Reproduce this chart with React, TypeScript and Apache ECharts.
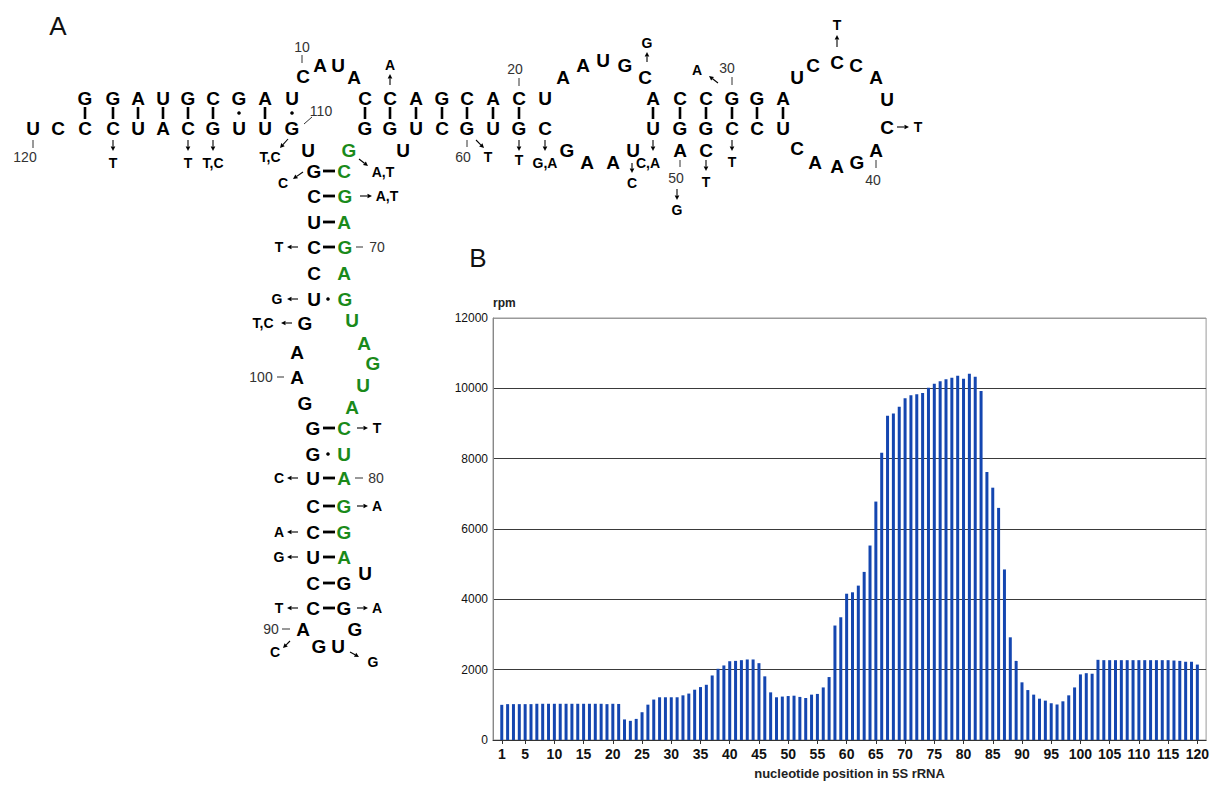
import React, { useEffect, useRef } from "react";
import * as echarts from "echarts";

// ---------- Panel B data ----------
const positions: number[] = Array.from({ length: 120 }, (_, i) => i + 1);
const tickLabels: number[] = [1, 5, 10, 15, 20, 25, 30, 35, 40, 45, 50, 55, 60, 65, 70, 75, 80, 85, 90, 95, 100, 105, 110, 115, 120];
const rpm: number[] = [
  1000, 1020, 1020, 1020, 1020, 1020, 1030, 1030, 1030, 1030,
  1030, 1030, 1030, 1030, 1030, 1030, 1030, 1030, 1020, 1030,
  1025, 585, 545, 600, 790, 1005, 1150, 1215, 1215, 1215,
  1215, 1270, 1320, 1430, 1505, 1570, 1835, 2025, 2120, 2240,
  2250, 2270, 2290, 2290, 2185, 1810, 1355, 1215, 1235, 1250,
  1260, 1225, 1195, 1290, 1310, 1495, 1790, 3255, 3490, 4160,
  4200, 4390, 4780, 5530, 6780, 8170, 9220, 9285, 9475, 9720,
  9800, 9830, 9870, 10020, 10130, 10200, 10255, 10300, 10360, 10275,
  10415, 10330, 9925, 7620, 7175, 6600, 4850, 2920, 2250, 1640,
  1420, 1290, 1175, 1120, 1045, 1010, 1100, 1270, 1495, 1865,
  1900, 1885, 2280, 2270, 2270, 2270, 2270, 2270, 2270, 2270,
  2270, 2270, 2270, 2270, 2270, 2260, 2250, 2225, 2225, 2145,
];
const yTicks: number[] = [0, 2000, 4000, 6000, 8000, 10000, 12000];

// ---------- Panel A layout (RNA secondary structure) ----------
const blackBases: [string, number, number][] = [
  ["G", 85, 98], ["G", 113, 98], ["A", 138, 98], ["U", 163, 98], ["G", 188, 98], ["C", 213, 98], ["G", 239, 98], ["A", 265, 98], ["U", 292, 98],
  ["C", 303, 76], ["A", 320, 65], ["U", 338, 65], ["A", 354, 77],
  ["C", 365, 98], ["C", 390, 98], ["A", 416, 98], ["G", 442, 98], ["C", 467, 98], ["A", 493, 98], ["C", 519, 98], ["U", 545, 98],
  ["A", 563, 77], ["A", 583, 65], ["U", 603, 60], ["G", 625, 65], ["C", 645, 77],
  ["A", 653, 98], ["C", 680, 98], ["C", 706, 98], ["G", 732, 98], ["G", 757, 98], ["A", 783, 98],
  ["U", 797, 77], ["C", 813, 65], ["C", 837, 62], ["C", 856, 65], ["A", 876, 77], ["U", 887, 99], ["C", 887, 127],
  ["A", 876, 150], ["G", 857, 162], ["A", 837, 166], ["A", 815, 162], ["C", 797, 148],
  ["U", 783, 128], ["C", 757, 128], ["C", 732, 128], ["G", 706, 128], ["G", 680, 128], ["U", 653, 128],
  ["A", 680, 150], ["C", 706, 150],
  ["U", 633, 150], ["A", 613, 162], ["A", 587, 162], ["G", 567, 150],
  ["C", 545, 128], ["G", 519, 128], ["U", 493, 128], ["G", 467, 128], ["C", 442, 128], ["U", 416, 128], ["G", 390, 128], ["G", 365, 128], ["U", 403, 150],
  ["U", 33, 128], ["C", 58, 128], ["C", 85, 128], ["C", 113, 128], ["U", 138, 128], ["A", 163, 128], ["C", 188, 128], ["G", 213, 128], ["U", 239, 128], ["U", 265, 128], ["G", 292, 128],
  ["U", 308, 150], ["G", 314, 171], ["C", 314, 196], ["U", 314, 222], ["C", 314, 247], ["C", 314, 273], ["U", 314, 299], ["G", 305, 323],
  ["A", 297, 352], ["A", 297, 377], ["G", 305, 403], ["G", 313, 428], ["G", 313, 454], ["U", 313, 478], ["C", 313, 506], ["C", 313, 532],
  ["U", 313, 557], ["C", 313, 583], ["C", 313, 608], ["A", 303, 629], ["G", 319, 646], ["U", 338, 646], ["G", 355, 629],
  ["G", 344, 608], ["G", 344, 583], ["U", 365, 573],
];
const greenBases: [string, number, number][] = [
  ["G", 349, 150], ["C", 344, 171], ["G", 345, 196], ["A", 344, 222], ["G", 345, 247], ["A", 344, 273], ["G", 345, 299],
  ["U", 352, 320], ["A", 364, 343], ["G", 373, 363], ["U", 363, 385], ["A", 352, 407],
  ["C", 344, 428], ["U", 344, 454], ["A", 344, 478], ["G", 344, 506], ["G", 344, 532], ["A", 344, 557],
];
const mutations: [string, number, number][] = [
  ["T", 113, 163], ["T", 188, 163], ["T,C", 213, 163], ["T,C", 270, 157], ["C", 283, 183],
  ["A,T", 383, 172], ["A,T", 387, 196], ["T", 279, 247], ["G", 277, 299], ["T,C", 263, 323],
  ["T", 377, 428], ["C", 279, 478], ["A", 377, 506], ["A", 279, 532], ["G", 279, 557], ["T", 279, 608], ["A", 377, 608],
  ["C", 275, 652], ["G", 373, 662],
  ["A", 390, 65], ["T", 488, 157], ["T", 519, 160], ["G,A", 545, 163], ["C", 632, 183], ["C,A", 648, 163], ["G", 647, 43],
  ["A", 697, 70], ["G", 677, 210], ["T", 706, 182], ["T", 732, 162], ["T", 837, 25], ["T", 918, 127],
];
const numbers: [string, number, number][] = [
  ["10", 302, 47], ["110", 321, 111], ["120", 25, 157], ["70", 377, 247], ["100", 261, 377], ["80", 376, 478], ["90", 271, 629],
  ["20", 515, 69], ["60", 463, 157], ["30", 727, 68], ["50", 676, 178], ["40", 873, 180],
];
const leaders: [number, number, number, number][] = [
  [302, 55, 302, 63], [304, 124, 312, 117], [33, 140, 33, 148], [356, 247, 363, 247], [277, 377, 284, 377],
  [355, 478, 363, 478], [282, 629, 290, 629], [519, 78, 519, 86], [467, 140, 467, 147], [732, 77, 732, 85],
  [680, 160, 680, 167], [876, 160, 876, 168],
];
const arrows: [number, number, number, number][] = [
  [113, 140, 113, 151], [188, 140, 188, 151], [213, 140, 213, 151], [288, 139, 280, 148], [303, 172, 293, 179],
  [359, 159, 368, 166], [360, 196, 372, 196], [298, 247, 287, 247], [298, 299, 287, 299], [292, 323, 281, 323],
  [357, 428, 368, 428], [298, 478, 287, 478], [357, 506, 368, 506], [298, 532, 287, 532], [298, 557, 287, 557],
  [298, 608, 287, 608], [357, 608, 368, 608], [290, 641, 283, 648], [350, 652, 359, 657],
  [390, 85, 390, 74], [476, 140, 484, 148], [519, 140, 519, 151], [545, 140, 545, 151], [632, 163, 632, 173],
  [653, 140, 653, 151], [647, 62, 647, 52], [718, 83, 709, 76], [677, 189, 677, 200], [706, 160, 706, 171],
  [732, 140, 732, 151], [837, 47, 837, 35], [897, 127, 909, 127],
];
const pairBars: number[] = [85, 113, 138, 163, 188, 213, 265, 365, 390, 416, 442, 467, 493, 519, 653, 680, 706, 732, 757, 783];
const wobbleDots: [number, number][] = [[239, 113], [292, 113], [328, 299], [328, 454]];
const stemDashRows: number[] = [171, 196, 222, 247, 428, 478, 506, 532, 557, 583, 608];

const FONT = '"Liberation Sans", Arial, Helvetica, sans-serif';
const GREEN = "#1a8a1a";

function txt(text: string, x: number, y: number, font: string, fill = "#000") {
  return {
    type: "text",
    x,
    y,
    silent: true,
    style: {
      text,
      font,
      fill,
      align: "center",
      verticalAlign: "middle",
      textAlign: "center",
      textVerticalAlign: "middle",
    },
  };
}

function line(x1: number, y1: number, x2: number, y2: number, w: number, color = "#000") {
  return { type: "line", silent: true, shape: { x1, y1, x2, y2 }, style: { stroke: color, lineWidth: w } };
}

function arrow(x1: number, y1: number, x2: number, y2: number) {
  const dx = x2 - x1;
  const dy = y2 - y1;
  const len = Math.sqrt(dx * dx + dy * dy) || 1;
  const ux = dx / len;
  const uy = dy / len;
  const hl = 4.5;
  const hw = 2.3;
  const bx = x2 - ux * hl;
  const by = y2 - uy * hl;
  return [
    line(x1, y1, bx, by, 1.1),
    {
      type: "polygon",
      silent: true,
      shape: { points: [[x2, y2], [bx - uy * hw, by + ux * hw], [bx + uy * hw, by - ux * hw]] },
      style: { fill: "#000" },
    },
  ];
}

function buildPanelA() {
  const els: any[] = [];
  const big = `bold 19px ${FONT}`;
  const small = `bold 14px ${FONT}`;
  const num = `14px ${FONT}`;
  els.push(txt("A", 58, 26, `26px ${FONT}`, "#111"));
  els.push(txt("B", 478, 258, `26px ${FONT}`, "#111"));
  blackBases.forEach(([t, x, y]) => els.push(txt(t, x, y, big)));
  greenBases.forEach(([t, x, y]) => els.push(txt(t, x, y, big, GREEN)));
  mutations.forEach(([t, x, y]) => els.push(txt(t, x, y, small)));
  numbers.forEach(([t, x, y]) => els.push(txt(t, x, y, num, "#333")));
  leaders.forEach(([a, b, c, d]) => els.push(line(a, b, c, d, 1, "#333")));
  arrows.forEach(([a, b, c, d]) => els.push(...arrow(a, b, c, d)));
  pairBars.forEach((x) => els.push(line(x, 107, x, 119, 2.6)));
  wobbleDots.forEach(([x, y]) => els.push({ type: "circle", silent: true, shape: { cx: x, cy: y, r: 1.8 }, style: { fill: "#000" } }));
  stemDashRows.forEach((y) => els.push(line(323, y, 335, y, 2.8)));
  return els;
}

export default function App() {
  const ref = useRef<HTMLDivElement>(null);
  useEffect(() => {
    document.body.style.margin = "0";
    if (!ref.current) return;
    const chart = echarts.init(ref.current, null, { renderer: "svg" });
    const categories = ["", ...positions.map(String), ""];
    const data = [null, ...rpm, null];
    const labelSet = new Set(tickLabels.map(String));
    const showLabel = (_i: number, v: string) => labelSet.has(v);
    const splitColors = yTicks.map((t) => (t === 12000 ? "#9a9a9a" : "#3a3a3a"));
    chart.setOption({
      animation: false,
      backgroundColor: "#fff",
      textStyle: { fontFamily: FONT },
      grid: {
        left: 493,
        top: 318,
        width: 717,
        height: 424,
        show: true,
        borderColor: "#9a9a9a",
        borderWidth: 1,
        backgroundColor: "transparent",
      },
      xAxis: {
        type: "category",
        data: categories,
        boundaryGap: true,
        axisLine: { lineStyle: { color: "#333", width: 1 } },
        axisTick: { show: true, alignWithLabel: true, interval: showLabel, length: 4, lineStyle: { color: "#333" } },
        axisLabel: { interval: showLabel, fontSize: 14, fontWeight: "bold", color: "#111", margin: 7 },
        splitLine: { show: false },
        name: "nucleotide position in 5S rRNA",
        nameLocation: "middle",
        nameGap: 27,
        nameTextStyle: { fontSize: 13, fontWeight: "bold", color: "#222" },
      },
      yAxis: {
        type: "value",
        min: 0,
        max: 12000,
        interval: 2000,
        axisLine: { show: true, lineStyle: { color: "#888" } },
        axisTick: { show: false },
        axisLabel: { fontSize: 12, color: "#111", margin: 5, formatter: (v: number) => String(v) },
        splitLine: { show: true, lineStyle: { color: splitColors, width: 1 } },
        name: "rpm",
        nameLocation: "end",
        nameGap: 9,
        nameTextStyle: { fontSize: 12, fontWeight: "bold", color: "#222", align: "left" },
      },
      series: [
        {
          type: "bar",
          data,
          barWidth: 3,
          itemStyle: { color: "#1446b0" },
        },
      ],
      graphic: { elements: buildPanelA() },
    });
    return () => chart.dispose();
  }, []);
  return <div ref={ref} style={{ width: 1212, height: 785 }} />;
}
